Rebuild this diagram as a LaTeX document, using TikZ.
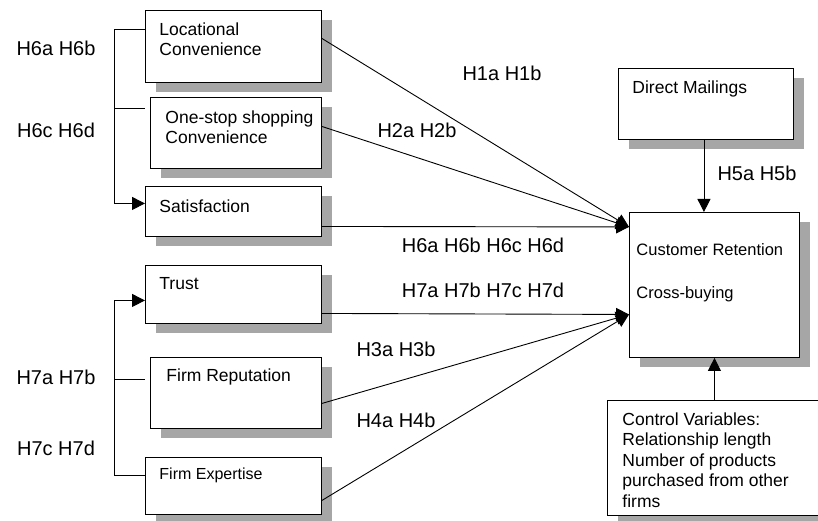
\documentclass[tikz,border=0pt]{standalone}
\usepackage{fontspec}
\setmainfont{Liberation Sans}
\usetikzlibrary{arrows.meta,shadows}

\begin{document}
\begin{tikzpicture}[x=1pt,y=-1pt,line width=0.9pt,
    box/.style={draw,fill=white,inner sep=0pt,anchor=north west,
      general shadow={draw=none,fill=black!35,shadow xshift=11pt,shadow yshift=-10pt}},
    txt/.style={inner sep=0pt,anchor=north west,align=left,font=\fontsize{17.5}{20.5}\selectfont},
    hyp/.style={inner sep=0pt,font=\fontsize{20}{24}\selectfont},
    arr/.style={-{Triangle[length=13pt,width=13pt]}}]
  \useasboundingbox (0,0) rectangle (818,521);
  \clip (0,0) rectangle (818,521);

  \node[box,minimum width=176,minimum height=72] (loc) at (145,10) {};
  \node[box,minimum width=171,minimum height=71] (one) at (150,97) {};
  \node[box,minimum width=176,minimum height=50] (sat) at (145,186) {};
  \node[box,minimum width=176,minimum height=58] (trust) at (145,265) {};
  \node[box,minimum width=171,minimum height=71] (rep) at (150,357) {};
  \node[box,minimum width=176,minimum height=57] (exp) at (145,457) {};
  \node[box,minimum width=175,minimum height=71] (mail) at (618,68) {};
  \node[box,minimum width=170,minimum height=145] (cust) at (629,212) {};
  \node[box,minimum width=225,minimum height=115] (ctrl) at (607,400) {};

  \node[txt] (loctxt) at ([xshift=14pt,yshift=-12pt]loc.north west) {Locational\\Convenience};
  \node[txt] (onetxt) at ([xshift=15pt,yshift=-13pt]one.north west) {One-stop shopping\\Convenience};
  \node[txt] (sattxt) at ([xshift=14pt,yshift=-13pt]sat.north west) {Satisfaction};
  \node[txt] (trusttxt) at ([xshift=14pt,yshift=-12pt]trust.north west) {Trust};
  \node[txt] (reptxt) at ([xshift=16pt,yshift=-11pt]rep.north west) {Firm Reputation};
  \node[txt,font=\fontsize{16}{19}\selectfont] (exptxt) at ([xshift=14pt,yshift=-10pt]exp.north west) {Firm Expertise};
  \node[txt] (mailtxt) at ([xshift=14pt,yshift=-12pt]mail.north west) {Direct Mailings};
  \node[txt,font=\fontsize{16.5}{20.5}\selectfont] (custtxt) at ([xshift=7pt,yshift=-31pt]cust.north west) {Customer Retention\\[22.5pt]Cross-buying};
  \node[txt] (ctrltxt) at ([xshift=15pt,yshift=-12pt]ctrl.north west)
    {Control Variables:\\Relationship length\\Number of products\\purchased from other\\firms};

  \coordinate (up) at ([yshift=58pt]cust.west);
  \coordinate (low) at ([yshift=-29.5pt]cust.west);
  \draw[arr] ([yshift=8pt]loc.east) -- (up);
  \draw[arr] ([yshift=6.5pt]one.east) -- (up);
  \draw[arr] ([yshift=-15pt]sat.east) -- (up);
  \draw[arr] ([yshift=-19pt]trust.east) -- (low);
  \draw[arr] ([yshift=-10.5pt]rep.east) -- (low);
  \draw[arr] ([yshift=-14.5pt]exp.east) -- (low);
  \draw[arr] ([xshift=-2pt]mail.south) -- ([xshift=-2pt]mail.south |- cust.north);
  \draw[arr] (cust.south |- ctrl.north) -- (cust.south);

  \draw[arr] ([yshift=17pt]loc.west) -- ++(-31,0) |- ([yshift=8pt]sat.west);
  \coordinate (t6) at (114,108);
  \draw (t6) -- ++(31,0);
  \draw[arr] ([yshift=10.5pt]exp.west) -- ++(-31,0) |- ([yshift=-6pt]trust.west);
  \coordinate (t7) at (114,379);
  \draw (t7) -- ++(31,0);

  \node[hyp] (h6ab) at (56,48) {H6a H6b};
  \node[hyp] (h6cd) at (56,130) {H6c H6d};
  \node[hyp] (h7ab) at (56,377) {H7a H7b};
  \node[hyp] (h7cd) at (56,448) {H7c H7d};
  \node[hyp] (h1) at (502,73) {H1a H1b};
  \node[hyp] (h2) at (417,130) {H2a H2b};
  \node[hyp] (h6) at (483,245) {H6a H6b H6c H6d};
  \node[hyp] (h5) at (757,173) {H5a H5b};
  \node[hyp] (h7) at (483,290) {H7a H7b H7c H7d};
  \node[hyp] (h3) at (396,349) {H3a H3b};
  \node[hyp] (h4) at (396,420) {H4a H4b};
\end{tikzpicture}
\end{document}
